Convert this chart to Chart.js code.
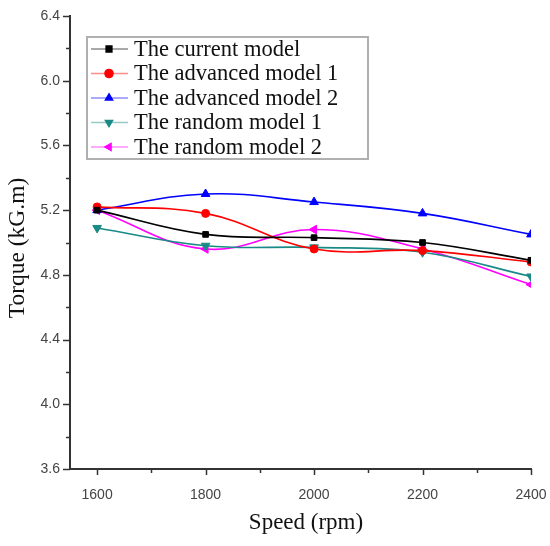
<!DOCTYPE html>
<html>
<head>
<meta charset="utf-8">
<script src="https://cdn.jsdelivr.net/npm/chart.js@4"></script>
<style>
  html, body { margin: 0; padding: 0; background: #fff; }
  #wrap { width: 550px; height: 546px; position: relative; }
</style>
</head>
<body>
<div id="wrap"><canvas id="c" width="550" height="546"></canvas></div>
<script>
// Engine speed (rpm) and torque (kG.m) for each model
const speeds = [1600, 1800, 2000, 2200, 2400];
const currentModel   = [5.20, 5.05, 5.03, 5.00, 4.89];
const advancedModel1 = [5.22, 5.18, 4.96, 4.95, 4.88];
const advancedModel2 = [5.20, 5.30, 5.25, 5.18, 5.05];
const randomModel1   = [5.09, 4.98, 4.97, 4.94, 4.79];
const randomModel2   = [5.20, 4.96, 5.08, 4.96, 4.74];

const seriesNames = ['The current model', 'The advanced model 1', 'The advanced model 2',
                     'The random model 1', 'The random model 2'];

const xTickValues = [1600, 1700, 1800, 1900, 2000, 2100, 2200, 2300, 2400];
const xTickLabels = ['1600', '', '1800', '', '2000', '', '2200', '', '2400'];
const yTickValues = [3.6, 3.8, 4.0, 4.2, 4.4, 4.6, 4.8, 5.0, 5.2, 5.4, 5.6, 5.8, 6.0, 6.2, 6.4];
const yTickLabels = ['3.6', '', '4.0', '', '4.4', '', '4.8', '', '5.2', '', '5.6', '', '6.0', '', '6.4'];

const xTitle = 'Speed (rpm)';
const yTitle = 'Torque (kG.m)';

const styles = [
  { color: '#000000', pointStyle: 'rect',     rotation: 0,   radius: 4 },
  { color: '#ff0000', pointStyle: 'circle',   rotation: 0,   radius: 4 },
  { color: '#0000ff', pointStyle: 'triangle', rotation: 0,   radius: 5 },
  { color: '#1a8a86', pointStyle: 'triangle', rotation: 180, radius: 5 },
  { color: '#ff00ff', pointStyle: 'triangle', rotation: -90, radius: 5 }
];
const seriesValues = [currentModel, advancedModel1, advancedModel2, randomModel1, randomModel2];

const datasets = seriesValues.map((vals, i) => ({
  label: seriesNames[i],
  data: speeds.map((s, k) => ({ x: s, y: vals[k] })),
  borderColor: styles[i].color,
  backgroundColor: styles[i].color,
  borderWidth: 1.6,
  pointStyle: styles[i].pointStyle,
  rotation: styles[i].rotation,
  pointRadius: styles[i].radius,
  pointBorderWidth: 1,
  tension: 0.4,
  fill: false
}));

const AXIS = '#333333';
const SERIF = '"Liberation Serif", "Times New Roman", serif';
const SANS = '"Liberation Sans", Arial, sans-serif';

// Outward tick marks: long on labelled values, short in between
const tickMarks = {
  id: 'tickMarks',
  afterDraw(chart) {
    const ctx = chart.ctx;
    const x = chart.scales.x, y = chart.scales.y;
    ctx.save();
    ctx.strokeStyle = AXIS;
    ctx.lineWidth = 1.5;
    xTickValues.forEach((v, i) => {
      const px = Math.round(x.getPixelForValue(v)) + 0.5;
      const len = xTickLabels[i] ? 6 : 4;
      ctx.beginPath(); ctx.moveTo(px, y.bottom); ctx.lineTo(px, y.bottom + len); ctx.stroke();
    });
    yTickValues.forEach((v, i) => {
      const py = Math.round(y.getPixelForValue(v)) + 0.5;
      const len = yTickLabels[i] ? 7 : 4;
      ctx.beginPath(); ctx.moveTo(x.left, py); ctx.lineTo(x.left - len, py); ctx.stroke();
    });
    ctx.restore();
  }
};

// Axis titles
const axisTitles = {
  id: 'axisTitles',
  afterDraw(chart) {
    const ctx = chart.ctx;
    ctx.save();
    ctx.fillStyle = '#111111';
    ctx.font = '23px ' + SERIF;
    ctx.textAlign = 'center';
    ctx.textBaseline = 'middle';
    ctx.fillText(xTitle, 306, 523);
    ctx.translate(18, 248);
    ctx.rotate(-Math.PI / 2);
    ctx.font = '23.5px ' + SERIF;
    ctx.fillText(yTitle, 0, 0);
    ctx.restore();
  }
};

// Boxed legend inside the plot area
const boxedLegend = {
  id: 'boxedLegend',
  afterDraw(chart) {
    const ctx = chart.ctx;
    const left = 87, top = 37, width = 281, height = 122, row = 24.5;
    ctx.save();
    ctx.fillStyle = '#ffffff';
    ctx.fillRect(left, top, width, height);
    ctx.strokeStyle = '#b0b0b0';
    ctx.lineWidth = 2;
    ctx.strokeRect(left, top, width, height);
    ctx.font = '22.5px ' + SERIF;
    ctx.textBaseline = 'middle';
    ctx.textAlign = 'left';
    chart.data.datasets.forEach((ds, i) => {
      const cy = top + 12 + i * row;
      ctx.strokeStyle = ds.borderColor;
      ctx.globalAlpha = 0.45;
      ctx.lineWidth = 1.6;
      ctx.beginPath(); ctx.moveTo(91, cy); ctx.lineTo(128, cy); ctx.stroke();
      ctx.globalAlpha = 1;
      ctx.fillStyle = ds.backgroundColor;
      Chart.helpers.drawPoint(ctx, {
        pointStyle: ds.pointStyle, rotation: ds.rotation, radius: 4, borderWidth: 1
      }, 109, cy);
      ctx.fill();
      ctx.fillStyle = '#111111';
      ctx.fillText(ds.label, 134, cy + 1);
    });
    ctx.restore();
  }
};

new Chart(document.getElementById('c'), {
  type: 'line',
  data: { datasets },
  options: {
    responsive: false,
    animation: false,
    layout: { padding: { top: 16, right: 19, left: 0, bottom: 0 } },
    plugins: { legend: { display: false }, tooltip: { enabled: false } },
    scales: {
      x: {
        type: 'linear',
        min: 1550, max: 2400,
        afterBuildTicks: s => { s.ticks = xTickValues.map(v => ({ value: v })); },
        afterFit: s => { s.height = 77; s.paddingLeft = 0; s.paddingRight = 0; },
        grid: { display: false, tickLength: 8 },
        border: { display: true, color: AXIS, width: 2 },
        ticks: {
          autoSkip: false, maxRotation: 0, padding: 10,
          color: '#444444',
          font: { family: SANS, size: 14 },
          callback: (v, i) => xTickLabels[i]
        },
        title: { display: false }
      },
      y: {
        type: 'linear',
        min: 3.6, max: 6.4,
        afterBuildTicks: s => { s.ticks = yTickValues.map(v => ({ value: v })); },
        afterFit: s => { s.width = 70; s.paddingTop = 0; s.paddingBottom = 0; },
        grid: { display: false, tickLength: 8 },
        border: { display: true, color: AXIS, width: 2 },
        ticks: {
          autoSkip: false, padding: 2,
          color: '#444444',
          font: { family: SANS, size: 14 },
          callback: (v, i) => yTickLabels[i]
        },
        title: { display: false }
      }
    }
  },
  plugins: [tickMarks, axisTitles, boxedLegend]
});
</script>
</body>
</html>
